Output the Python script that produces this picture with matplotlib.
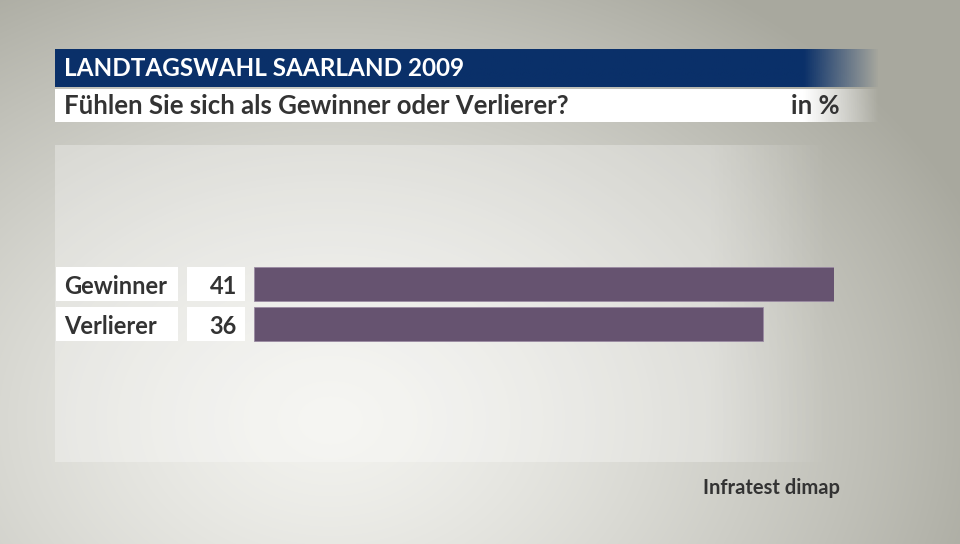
import numpy as np
import matplotlib.pyplot as plt
from matplotlib.patches import Rectangle
from matplotlib.transforms import blended_transform_factory

plt.rcParams['font.family'] = ['Lato', 'DejaVu Sans']

title = "LANDTAGSWAHL SAARLAND 2009"
subtitle = "Fühlen Sie sich als Gewinner oder Verlierer?"
unit = "in %"
source = "Infratest dimap"
categories = ["Gewinner", "Verlierer"]
values = [41, 36]

W, H = 960, 544
fig = plt.figure(figsize=(W / 100, H / 100), dpi=100)

# background in pixel coordinates
bg = fig.add_axes([0, 0, 1, 1])
bg.set_xlim(0, W)
bg.set_ylim(H, 0)
bg.axis('off')
yy, xx = np.mgrid[0:H, 0:W]
d = np.sqrt(((xx - 330) / 700.0) ** 2 + ((yy - 420) / 520.0) ** 2)
d = np.clip(d, 0, 1)
light = np.array([242, 242, 238]) / 255
dark = np.array([168, 168, 158]) / 255
img = light + (dark - light) * d[..., None] ** 1.4
bg.imshow(img, extent=(0, W, H, 0), aspect='auto', zorder=0)

# lighter panel
panel = np.zeros((1, 200, 4))
panel[..., :3] = 1
panel[0, :, 3] = 0.3 * np.clip((830 - np.linspace(55, 880, 200)) / 120, 0, 1)
bg.imshow(panel, extent=(55, 880, 462, 145), aspect='auto', zorder=1)

# header bar with fade on the right
xs = np.linspace(55, 880, 400)
fade = np.clip((880 - xs) / 75, 0, 1)
head = np.zeros((1, 400, 4))
head[..., :3] = np.array([10, 48, 105]) / 255
head[0, :, 3] = fade
bg.imshow(head, extent=(55, 880, 87, 49), aspect='auto', zorder=2)
sub = np.ones((1, 400, 4))
sub[0, :, 3] = fade
bg.imshow(sub, extent=(55, 880, 122, 89), aspect='auto', zorder=2)
bg.set_xlim(0, W)
bg.set_ylim(H, 0)

bg.text(64, 69, title, color='white', fontsize=17.5, fontweight='bold',
        va='center', ha='left', zorder=3)
bg.text(64, 106, subtitle, color='#333333', fontsize=18.5, fontweight='bold',
        va='center', ha='left', zorder=3)
bg.text(840, 106, unit, color='#333333', fontsize=18.5, fontweight='bold',
        va='center', ha='right', zorder=3)
bg.text(840, 488, source, color='#333333', fontsize=14.5, fontweight='bold',
        va='center', ha='right', zorder=3)

# bar axes: x 254..834 px, y 262..346 px
ax = fig.add_axes([254 / W, 1 - 346 / H, 580 / W, 84 / H])
ax.patch.set_alpha(0)
ypos = np.arange(len(categories))
ax.barh(ypos, values, height=0.85, color='#665370', edgecolor='#9a8aa2',
        linewidth=0.6)
ax.set_xlim(0, max(values))
ax.set_ylim(1.55, -0.55)
ax.axis('off')

tr = blended_transform_factory(ax.transAxes, ax.transData)
for i, (cat, v) in enumerate(zip(categories, values)):
    ax.add_patch(Rectangle(((56 - 254) / 580, i - 0.425), 122 / 580, 0.85,
                           facecolor='white', edgecolor='none',
                           transform=tr, clip_on=False))
    ax.add_patch(Rectangle(((187 - 254) / 580, i - 0.425), 58 / 580, 0.85,
                           facecolor='white', edgecolor='none',
                           transform=tr, clip_on=False))
    ax.text((64 - 254) / 580, i + 0.05, cat, transform=tr, ha='left',
            va='center', fontsize=17, fontweight='bold', color='#333333')
    ax.text((237 - 254) / 580, i + 0.05, str(v), transform=tr, ha='right',
            va='center', fontsize=17, fontweight='bold', color='#333333')

fig.savefig('out.png', dpi=100)
